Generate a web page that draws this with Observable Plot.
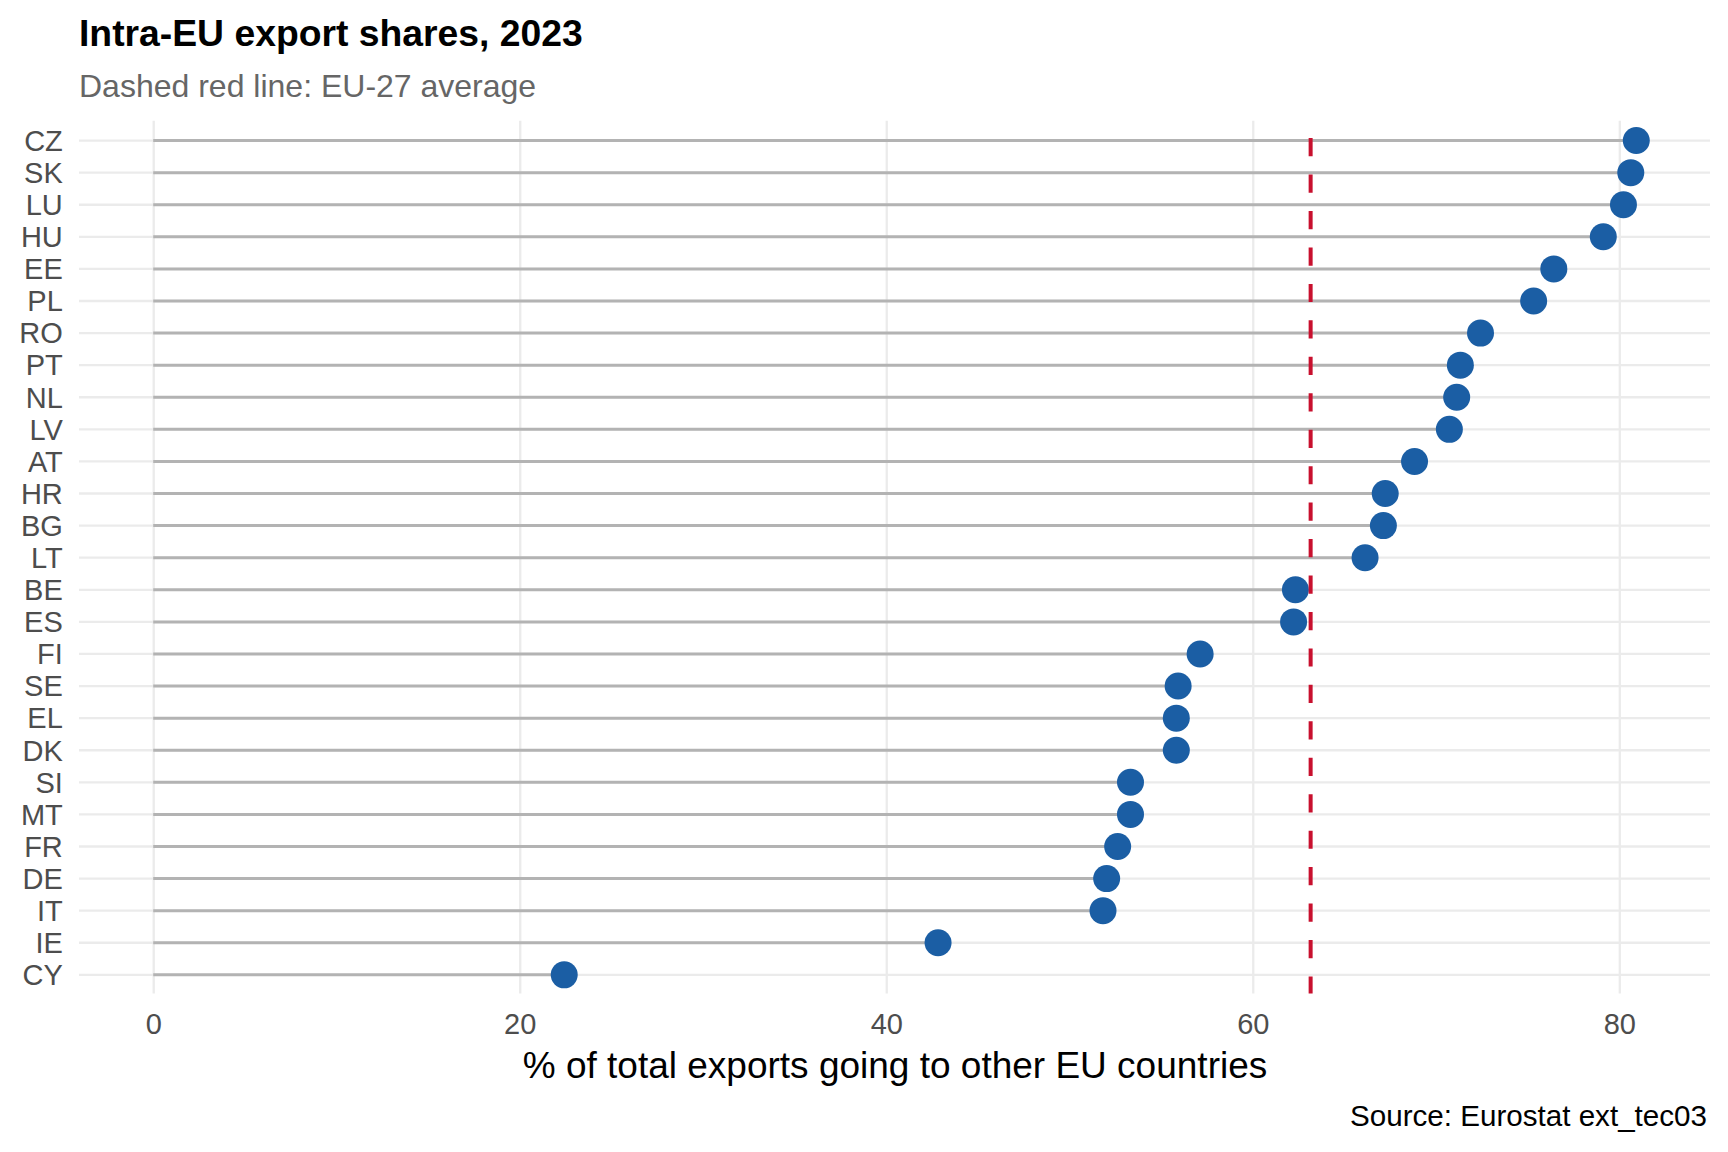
<!DOCTYPE html>
<html><head><meta charset="utf-8">
<script src="https://cdn.jsdelivr.net/npm/d3@7"></script>
<script src="https://cdn.jsdelivr.net/npm/@observablehq/plot@0.6"></script>
<style>
html,body{margin:0;padding:0;background:#fff;}
body{width:1728px;font-family:"Liberation Sans",Arial,Helvetica,sans-serif;}
#header{position:relative;height:100px;}
#title{position:absolute;left:79px;top:15.2px;font-size:37.3px;line-height:37.3px;font-weight:bold;color:#000;white-space:nowrap;}
#subtitle{position:absolute;left:79px;top:69.5px;font-size:32px;line-height:32px;color:#666;white-space:nowrap;}
#chart svg{display:block;}
#caption{margin-top:-2.3px;height:44px;font-size:29.6px;line-height:36px;text-align:right;padding-right:21px;color:#000;white-space:nowrap;}
</style></head><body>
<div id="header"><div id="title">Intra-EU export shares, 2023</div><div id="subtitle">Dashed red line: EU-27 average</div></div>
<div id="chart"></div>
<div id="caption">Source: Eurostat ext_tec03</div>
<script>
const countries = ["CZ","SK","LU","HU","EE","PL","RO","PT","NL","LV","AT","HR","BG","LT","BE","ES","FI","SE","EL","DK","SI","MT","FR","DE","IT","IE","CY"];
const shares = [80.9,80.6,80.2,79.1,76.4,75.3,72.4,71.3,71.1,70.7,68.8,67.2,67.1,66.1,62.3,62.2,57.1,55.9,55.8,55.8,53.3,53.3,52.6,52.0,51.8,42.8,22.4];
const euAverage = 63.13;
const xTicks = [0,20,40,60,80];
const xDomain = [-4.05, 84.95];
const xLabel = "% of total exports going to other EU countries";

const data = countries.map((c, i) => ({country: c, share: shares[i]}));
const font = '"Liberation Sans", Arial, Helvetica, sans-serif';

const chart = Plot.plot({
  width: 1728,
  height: 1000,
  marginLeft: 79,
  marginRight: 18,
  marginTop: 20.8,
  marginBottom: 106.4,
  style: {fontFamily: font, background: "white", overflow: "visible"},
  x: {domain: xDomain, label: null},
  y: {type: "point", domain: countries, padding: 0.6, round: false, label: null},
  marks: [
    Plot.ruleX(xTicks, {stroke: "#EBEBEB", strokeWidth: 2.3}),
    Plot.ruleY(countries, {stroke: "#EBEBEB", strokeWidth: 2.3}),
    Plot.ruleY(data, {y: "country", x1: 0, x2: "share", stroke: "#B3B3B3", strokeWidth: 3}),
    Plot.dot(data, {x: "share", y: "country", r: 13.5, fill: "#1B5EA4"}),
    Plot.ruleX([euAverage], {stroke: "#C8102E", strokeWidth: 4, strokeDasharray: "18.2,18.25", strokeDashoffset: 19.15}),
    Plot.axisX(xTicks, {tickSize: 0, tickPadding: 19.8, fontSize: 29, color: "#4D4D4D", label: null}),
    Plot.axisY({tickSize: 0, tickPadding: 16.7, fontSize: 29, color: "#4D4D4D", label: null, dy: 1}),
    Plot.text([xLabel], {text: d => d, frameAnchor: "bottom", lineAnchor: "bottom", dy: 83.4, fontSize: 37, fill: "#000"})
  ]
});
document.getElementById("chart").appendChild(chart);
</script>
</body></html>
